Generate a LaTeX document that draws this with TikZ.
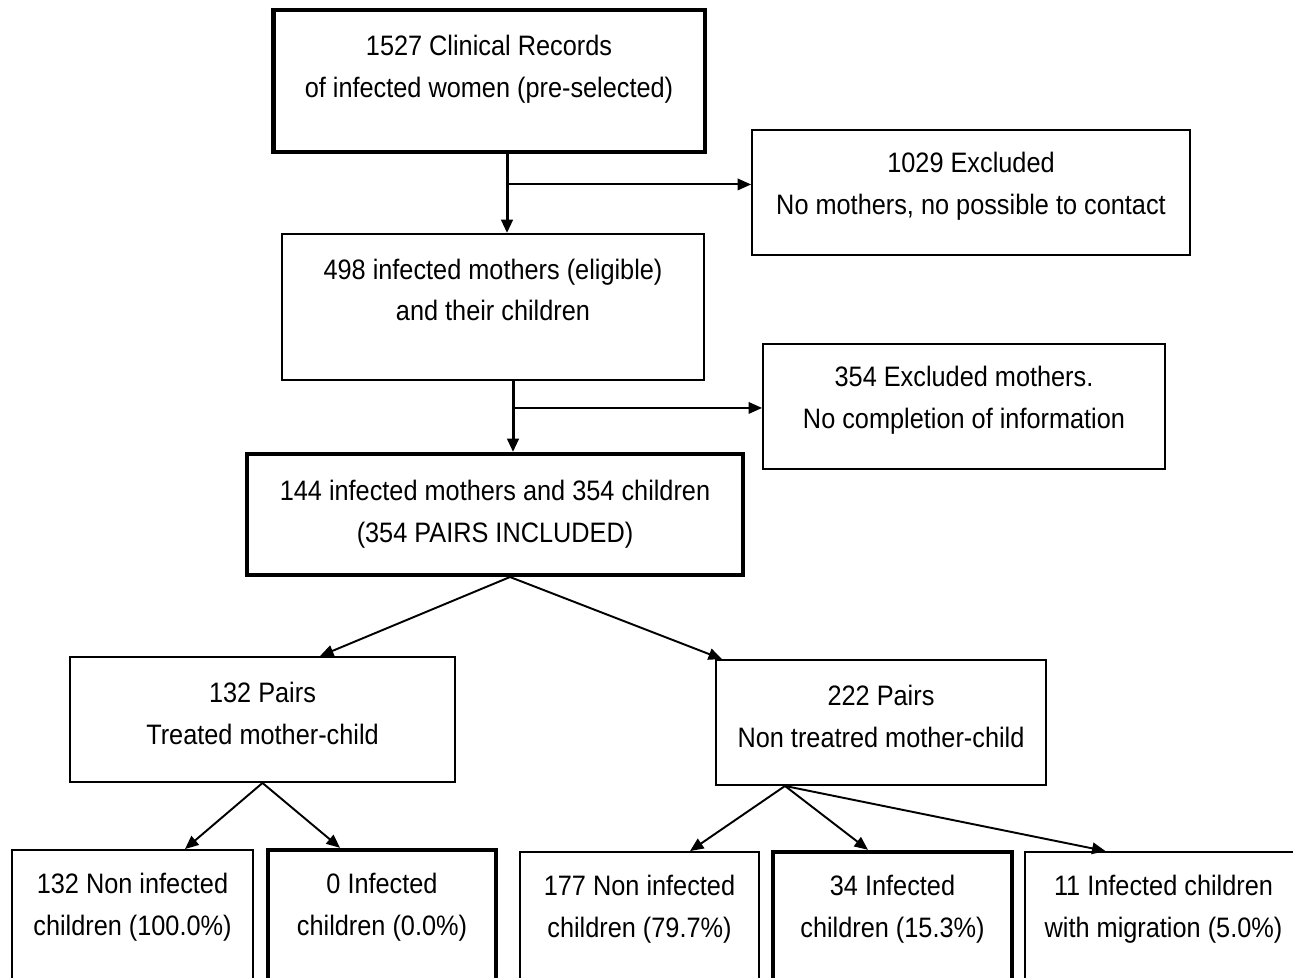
\documentclass[tikz,border=0pt]{standalone}
\usepackage{fontspec}
\setmainfont{Liberation Sans}[FakeStretch=0.9]
\usetikzlibrary{arrows.meta,calc}

\begin{document}
\begin{tikzpicture}[x=0.02cm,y=-0.02cm, every node/.style={font=\fontsize{16}{23.8}\selectfont,align=center},
  box/.style={draw,line width=1.1pt,inner sep=0pt},
  bold/.style={draw,line width=2.5pt,inner sep=0pt},
  arr/.style={-{Triangle[length=0.27cm,width=0.23cm]},line width=1.1pt},
  trunk/.style={arr,line width=1.7pt}]
\useasboundingbox[fill=white] (0,0) rectangle (1293,977);
\node[bold,line width=2.8pt,minimum width=8.64cm,minimum height=2.84cm,label={[yshift=0.24cm]center:1527 Clinical Records\\of infected women (pre-selected)}] (rec) at (489,81) {};
\node[box,minimum width=8.76cm,minimum height=2.5cm,label={[yshift=0.12cm]center:1029 Excluded\\No mothers, no possible to contact}] (ex1) at (971,192.5) {};
\node[box,minimum width=8.44cm,minimum height=2.92cm,label={[yshift=0.34cm]center:498 infected mothers (eligible)\\and their children}] (elig) at (493,307) {};
\node[box,minimum width=8.04cm,minimum height=2.5cm,label={[yshift=0.12cm]center:354 Excluded mothers.\\No completion of information}] (ex2) at (964,406.5) {};
\node[bold,line width=2.3pt,minimum width=9.92cm,minimum height=2.42cm,label={center:144 infected mothers and 354 children\\(354 PAIRS INCLUDED)}] (inc) at (495,514.5) {};
\node[box,minimum width=7.7cm,minimum height=2.5cm,label={[yshift=0.12cm]center:132 Pairs\\Treated mother-child}] (tr) at (262.5,719.5) {};
\node[box,minimum width=6.6cm,minimum height=2.5cm,label={[yshift=0.12cm]center:222 Pairs\\Non treatred mother-child}] (nt) at (881,722.5) {};
\node[box,minimum width=4.82cm,minimum height=2.8cm,label={[yshift=0.26cm]center:132 Non infected\\children (100.0\%)}] (c1) at (132.5,920) {};
\node[bold,minimum width=4.56cm,minimum height=2.8cm,label={[yshift=0.26cm]center:0 Infected\\children (0.0\%)}] (c2) at (382,920) {};
\node[box,minimum width=4.78cm,minimum height=2.8cm,label={[yshift=0.26cm]center:177 Non infected\\children (79.7\%)}] (c3) at (639.5,922) {};
\node[bold,minimum width=4.78cm,minimum height=2.8cm,label={[yshift=0.26cm]center:34 Infected\\children (15.3\%)}] (c4) at (892.5,922) {};
\node[box,minimum width=5.5cm,minimum height=2.8cm,label={[yshift=0.26cm,xshift=0.02cm]center:11 Infected children\\with migration (5.0\%)}] (c5) at (1162.5,922) {};
\coordinate (j1) at ($(rec.south)+(18,30)$);
\coordinate (j2) at ($(elig.south)+(20,27)$);
\draw[trunk] (rec.south -| j1) -- (j1 |- elig.north);\draw[arr] (j1) -- (j1 -| ex1.west);
\draw[trunk] (elig.south -| j2) -- (j2 |- inc.north);\draw[arr] (j2) -- (j2 -| ex2.west);
\draw[arr] ($(inc.south)+(15,0)$) -- ($(tr.north)+(57.5,0)$);\draw[arr] ($(inc.south)+(15,0)$) -- ($(nt.north)+(-159,0)$);
\draw[arr] (tr.south) -- ($(c1.north)+(52.5,0)$);\draw[arr] (tr.south) -- ($(c2.north)+(-42,0)$);
\draw[arr] ($(nt.south)+(-96,0)$) -- ($(c3.north)+(50.5,0)$);\draw[arr] ($(nt.south)+(-96,0)$) -- ($(c4.north)+(-24.5,0)$);
\draw[arr] ($(nt.south)+(-96,0)$) -- ($(c5.north)+(-57,0)$);
\end{tikzpicture}
\end{document}
